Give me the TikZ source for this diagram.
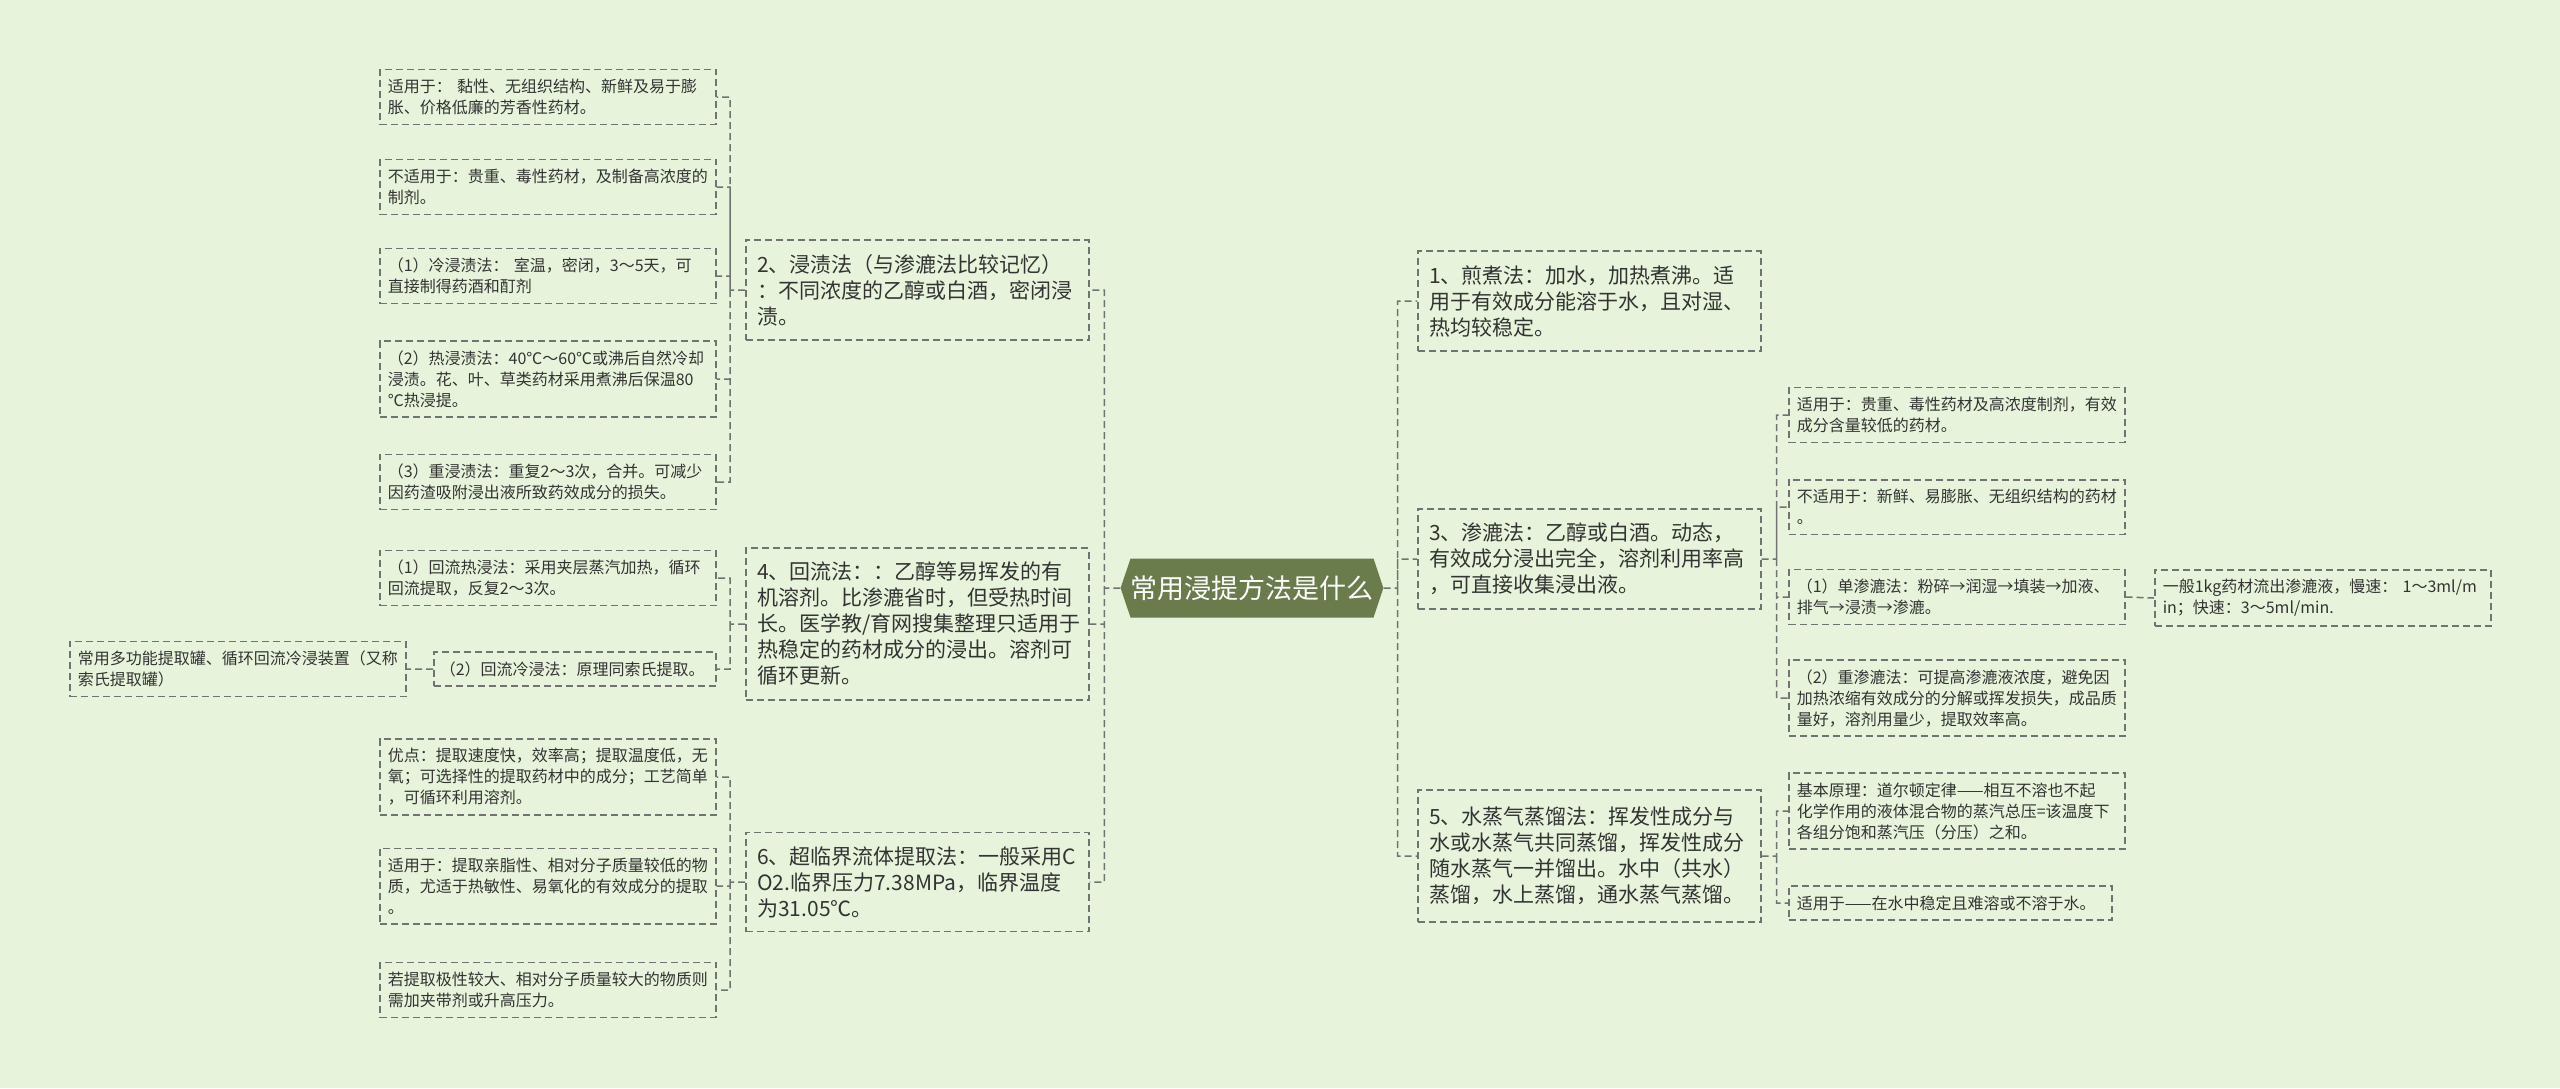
\documentclass[tikz,border=0pt]{standalone}
\usepackage{fontspec}
\setmainfont{Noto Sans CJK SC}
\usetikzlibrary{shapes.symbols}
\usetikzlibrary{positioning}
\definecolor{bgcol}{HTML}{E7F4DB}
\definecolor{rootcol}{HTML}{6B7C4C}
\definecolor{linecol}{HTML}{727272}
\definecolor{txtcol}{HTML}{333333}
\hfuzz=40pt
\hbadness=10000

\begin{document}
\begin{tikzpicture}[x=1pt,y=-1pt,
            root/.style = {signal,signal to=east and west,signal pointer angle=143,
                fill=rootcol,text=white,font=\fontsize{27}{32}\selectfont,
                minimum height=59pt,minimum width=255pt,inner sep=0pt},
            topic/.style = {draw=linecol,dash pattern=on 7pt off 4pt,line width=1.5pt,
                anchor=west,align=left,text=txtcol,text width=320pt,inner xsep=11.5pt,
                inner ysep=14pt,font=\fontsize{21}{26}\selectfont},
            leaf/.style = {topic,text width=320pt,inner xsep=8pt,inner ysep=9.5pt,
                font=\fontsize{16}{21}\selectfont},
            link/.style = {draw=linecol,dash pattern=on 7pt off 4pt,line width=1.5pt}]
            \useasboundingbox (0,0) rectangle (2560,1088);
            \fill[bgcol] (0,0) rectangle (2560,1088);
            % centre
            \node[root](root) at (1252,588) {常用浸提方法是什么};
            % left side
            \node[topic](n2) at (745,290) {2、浸渍法（与渗漉法比较记忆）\\：不同浓度的乙醇或白酒，密闭浸\\渍。};
            \node[topic](n4) at (745,624) {4、回流法：：乙醇等易挥发的有\\机溶剂。比渗漉省时，但受热时间\\长。医学教/育网搜集整理只适用于\\热稳定的药材成分的浸出。溶剂可\\循环更新。};
            \node[topic](n6) at (745,882) {6、超临界流体提取法：一般采用C\\O2.临界压力7.38MPa，临界温度\\为31.05℃。};
            \node[leaf](l1) at (379,97) {适用于： 黏性、无组织结构、新鲜及易于膨\\胀、价格低廉的芳香性药材。};
            \node[leaf](l2) at (379,187) {不适用于：贵重、毒性药材，及制备高浓度的\\制剂。};
            \node[leaf](l3) at (379,276) {（1）冷浸渍法： 室温，密闭，3～5天，可\\直接制得药酒和酊剂};
            \node[leaf](l4) at (379,379) {（2）热浸渍法：40℃～60℃或沸后自然冷却\\浸渍。花、叶、草类药材采用煮沸后保温80\\℃热浸提。};
            \node[leaf](l5) at (379,482) {（3）重浸渍法：重复2～3次，合并。可减少\\因药渣吸附浸出液所致药效成分的损失。};
            \node[leaf](l6) at (379,578) {（1）回流热浸法：采用夹层蒸汽加热，循环\\回流提取，反复2～3次。};
            \node[leaf,text width=270pt,inner xsep=6pt](l7) at (433,669) {（2）回流冷浸法：原理同索氏提取。};
            \node[leaf](l8) at (69,669) {常用多功能提取罐、循环回流冷浸装置（又称\\索氏提取罐）};
            \node[leaf](l9) at (379,777) {优点：提取速度快，效率高；提取温度低，无\\氧；可选择性的提取药材中的成分；工艺简单\\，可循环利用溶剂。};
            \node[leaf](l10) at (379,886) {适用于：提取亲脂性、相对分子质量较低的物\\质，尤适于热敏性、易氧化的有效成分的提取\\。};
            \node[leaf](l11) at (379,990) {若提取极性较大、相对分子质量较大的物质则\\需加夹带剂或升高压力。};
            % right side
            \node[topic](n1) at (1417,301) {1、煎煮法：加水，加热煮沸。适\\用于有效成分能溶于水，且对湿、\\热均较稳定。};
            \node[topic](n3) at (1417,559) {3、渗漉法：乙醇或白酒。动态，\\有效成分浸出完全，溶剂利用率高\\，可直接收集浸出液。};
            \node[topic,minimum height=132pt](n5) at (1417,856) {5、水蒸气蒸馏法：挥发性成分与\\水或水蒸气共同蒸馏，挥发性成分\\随水蒸气一并馏出。水中（共水）\\蒸馏，水上蒸馏，通水蒸气蒸馏。};
            \node[leaf](r1) at (1788,415) {适用于：贵重、毒性药材及高浓度制剂，有效\\成分含量较低的药材。};
            \node[leaf](r2) at (1788,507) {不适用于：新鲜、易膨胀、无组织结构的药材\\。};
            \node[leaf](r3) at (1788,597) {（1）单渗漉法：粉碎→润湿→填装→加液、\\排气→浸渍→渗漉。};
            \node[leaf](r4) at (2154,598) {一般1kg药材流出渗漉液，慢速： 1～3ml/m\\in；快速：3～5ml/min.};
            \node[leaf](r5) at (1788,698) {（2）重渗漉法：可提高渗漉液浓度，避免因\\加热浓缩有效成分的分解或挥发损失，成品质\\量好，溶剂用量少，提取效率高。};
            \node[leaf](r6) at (1788,811) {基本原理：道尔顿定律——相互不溶也不起\\化学作用的液体混合物的蒸汽总压=该温度下\\各组分饱和蒸汽压（分压）之和。};
            \node[leaf,text width=307pt](r7) at (1788,903) {适用于——在水中稳定且难溶或不溶于水。};
            % joints
            \coordinate[right=14pt of root.east] (jR);
            \coordinate[left=16pt of root.west] (jL);
            \coordinate[left=15pt of n2.west] (j2);
            \coordinate[left=15pt of n4.west] (j4);
            \coordinate[left=15pt of n6.west] (j6);
            \coordinate[right=15pt of n3.east] (j3);
            \coordinate[right=15pt of n5.east] (j5);
            \path[link]
                (root.east) -- (jR) |- (n1.west)
                (jR) |- (n3.west)
                (jR) |- (n5.west)
                (root.west) -- (jL) |- (n2.east)
                (jL) |- (n4.east)
                (jL) |- (n6.east)
                (n2.west) -- (j2) |- (l1.east)
                (j2) |- (l2.east)
                (j2) |- (l3.east)
                (j2) |- (l4.east)
                (j2) |- (l5.east)
                (n4.west) -- (j4) |- (l6.east)
                (j4) |- (l7.east)
                (l7.west) -- (l8.east)
                (n6.west) -- (j6) |- (l9.east)
                (j6) |- (l10.east)
                (j6) |- (l11.east)
                (n3.east) -- (j3) |- (r1.west)
                (j3) |- (r2.west)
                (j3) |- (r3.west)
                (j3) |- (r5.west)
                (r3.east) -- (r4.west)
                (n5.east) -- (j5) |- (r6.west)
                (j5) |- (r7.west);
        \end{tikzpicture}
\end{document}
